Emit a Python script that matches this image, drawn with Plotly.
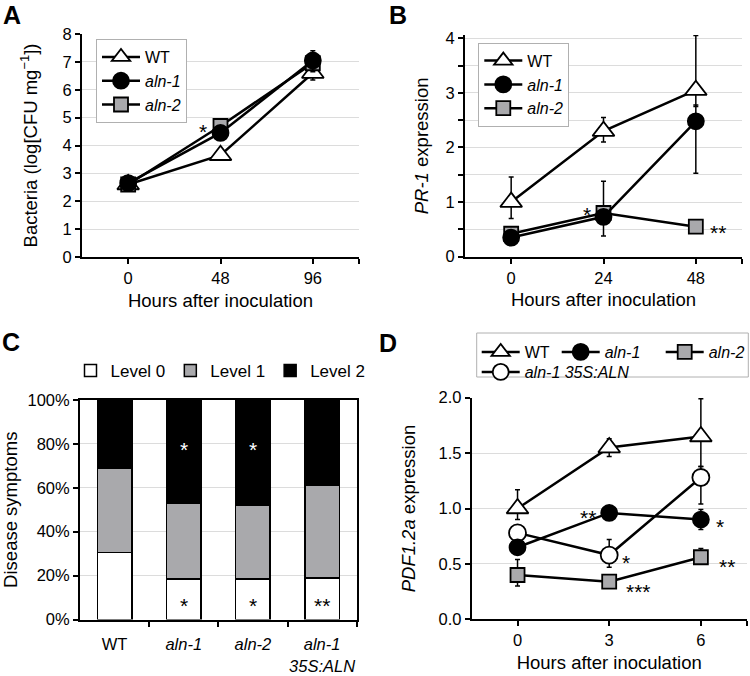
import plotly.graph_objects as go

W, H = 750, 676
FONT = "Liberation Sans, Arial, Helvetica, sans-serif"

# ---------------- data ----------------
# Panel A: bacterial growth
hours_A = ["0", "48", "96"]
A_wt = [2.6, 3.65, 6.6]
A_wt_err = [0.08, 0.1, 0.25]
A_aln1 = [2.65, 4.45, 7.05]
A_aln1_err = [0.08, 0.15, 0.35]
A_aln2 = [2.6, 4.7, 6.95]
A_aln2_err = [0.08, 0.1, 0.3]

# Panel B: PR-1 expression
hours_B = ["0", "24", "48"]
B_wt = [1.0, 2.3, 3.05]
B_wt_errp = [0.46, 0.25, 1.0]
B_wt_errm = [0.3, 0.2, 0.3]
B_aln1 = [0.35, 0.73, 2.48]
B_aln1_errp = [0.05, 0.05, 0.3]
B_aln1_errm = [0.05, 0.35, 0.95]
B_aln2 = [0.42, 0.8, 0.55]
B_aln2_errp = [0.05, 0.58, 0.05]
B_aln2_errm = [0.05, 0.1, 0.05]

# Panel C: disease symptoms (%)
genotypes_C = ["WT", "<i>aln-1</i>", "<i>aln-2</i>", "<i>aln-1</i><br><i>35S:ALN</i>"]
C_level0 = [30.5, 18.5, 18.5, 19.0]
C_level1 = [38.5, 34.5, 33.5, 42.0]
C_level2 = [31.0, 47.0, 48.0, 39.0]

# Panel D: PDF1.2a expression
hours_D = ["0", "3", "6"]
D_wt = [1.0, 1.55, 1.65]
D_wt_errp = [0.17, 0.08, 0.34]
D_wt_errm = [0.1, 0.08, 0.27]
D_aln1 = [0.65, 0.96, 0.9]
D_aln1_errp = [0.05, 0.03, 0.09]
D_aln1_errm = [0.05, 0.03, 0.09]
D_aln2 = [0.4, 0.34, 0.56]
D_aln2_errp = [0.14, 0.03, 0.08]
D_aln2_errm = [0.1, 0.03, 0.03]
D_35s = [0.78, 0.58, 1.28]
D_35s_errp = [0.05, 0.14, 0.1]
D_35s_errm = [0.05, 0.11, 0.24]

y_ticks_A = [0, 1, 2, 3, 4, 5, 6, 7, 8]
y_ticks_B = [0, 1, 2, 3, 4]
y_minor_B = [0.5, 1.5, 2.5, 3.5]
y_ticks_C = [0, 20, 40, 60, 80, 100]
y_ticks_D = [0, 0.5, 1.0, 1.5, 2.0]


def px(x):
    return x / W


def py(y):
    return 1 - y / H


GRAY = "#a9a9ac"
GRID = "#dcdcdc"
fig = go.Figure()


def eb(p, m):
    return dict(type="data", array=p, arrayminus=m, symmetric=False,
                color="black", thickness=1.5, width=2.5)


def line_trace(xv, yv, name, symbol, fill, size, ep, em, xa, ya, legend, rank, lw=None):
    return go.Scatter(
        x=xv, y=yv, name=name, mode="lines+markers",
        line=dict(color="black", width=2.5),
        marker=dict(symbol=symbol, color=fill, size=size,
                    line=dict(color="black", width=1.8)),
        error_y=eb(ep, em), xaxis=xa, yaxis=ya, legend=legend,
        legendrank=rank, legendwidth=lw,
    )


# ---- Panel A ----
xA = list(range(len(hours_A)))
fig.add_trace(line_trace(xA, A_wt, "WT", "triangle-up", "white", 19, A_wt_err, A_wt_err, "x", "y", "legend", 1))
fig.add_trace(line_trace(xA, A_aln2, "<i>aln-2</i>", "square", GRAY, 14, A_aln2_err, A_aln2_err, "x", "y", "legend", 3))
fig.add_trace(line_trace(xA, A_aln1, "<i>aln-1</i>", "circle", "black", 16, A_aln1_err, A_aln1_err, "x", "y", "legend", 2))

# ---- Panel B ----
xB = list(range(len(hours_B)))
fig.add_trace(line_trace(xB, B_wt, "WT", "triangle-up", "white", 19, B_wt_errp, B_wt_errm, "x2", "y2", "legend2", 1))
fig.add_trace(line_trace(xB, B_aln2, "<i>aln-2</i>", "square", GRAY, 14, B_aln2_errp, B_aln2_errm, "x2", "y2", "legend2", 3))
fig.add_trace(line_trace(xB, B_aln1, "<i>aln-1</i>", "circle", "black", 16, B_aln1_errp, B_aln1_errm, "x2", "y2", "legend2", 2))

# ---- Panel C ----
xC = list(range(len(genotypes_C)))
for vals, name, col in [(C_level0, "Level 0", "white"), (C_level1, "Level 1", GRAY), (C_level2, "Level 2", "black")]:
    fig.add_trace(go.Bar(x=xC, y=vals, name=name, width=0.5,
                         marker=dict(color=col, line=dict(color="black", width=1.5)),
                         xaxis="x3", yaxis="y3", legend="legend3"))

# ---- Panel D ----
xD = list(range(len(hours_D)))
fig.add_trace(line_trace(xD, D_wt, "WT", "triangle-up", "white", 19, D_wt_errp, D_wt_errm, "x4", "y4", "legend4", 1, lw=27))
fig.add_trace(line_trace(xD, D_35s, "<i>aln-1 35S:ALN</i>", "circle", "white", 17, D_35s_errp, D_35s_errm, "x4", "y4", "legend5", 1))
fig.add_trace(line_trace(xD, D_aln1, "<i>aln-1</i>", "circle", "black", 16, D_aln1_errp, D_aln1_errm, "x4", "y4", "legend4", 2, lw=51))
fig.add_trace(line_trace(xD, D_aln2, "<i>aln-2</i>", "square", GRAY, 14, D_aln2_errp, D_aln2_errm, "x4", "y4", "legend4", 3, lw=40))

tickfont = dict(family=FONT, size=16.5, color="black")
titlefont = dict(family=FONT, size=18.5, color="black")


def xaxis_line(dom, labels, title, anchor):
    n = len(labels)
    return dict(domain=dom, range=[-0.5, n - 0.5], anchor=anchor,
                tickmode="array", tickvals=list(range(n)), ticktext=labels,
                ticks="outside", ticklen=5, tickwidth=1.5, tickcolor="black",
                minor=dict(tickvals=[n - 0.5], ticks="outside", ticklen=5, tickwidth=1.5,
                           tickcolor="black", showgrid=False),
                showline=True, linecolor="black", linewidth=2,
                showgrid=False, zeroline=False, tickfont=tickfont,
                title=dict(text=title, font=titlefont, standoff=8))


def yaxis_line(dom, rng, tv, tt, title, anchor, standoff, minor_vals=None):
    d = dict(domain=dom, range=rng, anchor=anchor, tickmode="array",
             tickvals=tv, ticktext=tt, ticks="outside", ticklen=5, tickwidth=1.5,
             tickcolor="black", showline=True, linecolor="black", linewidth=2,
             showgrid=True, gridcolor=GRID, gridwidth=1, zeroline=False,
             tickfont=tickfont, title=dict(text=title, font=titlefont, standoff=standoff))
    if minor_vals:
        d["minor"] = dict(tickvals=minor_vals, ticks="outside", ticklen=5, tickwidth=1.5,
                          tickcolor="black", showgrid=True, gridcolor=GRID, gridwidth=1)
    return d


layout = dict(
    width=W, height=H, template="none",
    margin=dict(l=0, r=0, t=0, b=0, autoexpand=False),
    paper_bgcolor="white", plot_bgcolor="white",
    font=dict(family=FONT, color="black"),
    barmode="stack",
    xaxis=xaxis_line([px(82), px(359)], hours_A, "Hours after inoculation", "y"),
    yaxis=yaxis_line([py(257), py(34)], [0, 8], y_ticks_A, [str(v) for v in y_ticks_A],
                     "Bacteria (log[CFU mg<sup>−1</sup>])", "x", 20),
    xaxis2=xaxis_line([px(465), px(742)], hours_B, "Hours after inoculation", "y2"),
    yaxis2=yaxis_line([py(256.7), py(35)], [0, 4.06], y_ticks_B, [str(v) for v in y_ticks_B],
                      "<i>PR-1</i> expression", "x2", 12, y_minor_B),
    xaxis3=dict(domain=[px(80), px(356.7)], range=[-0.5, len(genotypes_C) - 0.5], anchor="y3",
                tickmode="array", tickvals=xC, ticktext=genotypes_C,
                ticks="outside", ticklen=9, tickcolor="rgba(0,0,0,0)",
                minor=dict(tickvals=[i + 0.5 for i in xC], ticks="outside", ticklen=5,
                           tickwidth=1.5, tickcolor="black", showgrid=False),
                showline=True, mirror=True, linecolor="black", linewidth=2,
                showgrid=False, zeroline=False, tickfont=tickfont),
    yaxis3=dict(domain=[py(619.5), py(400)], range=[0, 100], anchor="x3",
                tickmode="array", tickvals=y_ticks_C, ticktext=[f"{v}%" for v in y_ticks_C],
                ticks="outside", ticklen=5, tickwidth=1.5, tickcolor="black",
                showline=True, mirror=True, linecolor="black", linewidth=2,
                showgrid=True, gridcolor=GRID, zeroline=False, tickfont=tickfont,
                title=dict(text="Disease symptoms", font=titlefont, standoff=5)),
    xaxis4=xaxis_line([px(471.7), px(746.7)], hours_D, "Hours after inoculation", "y4"),
    yaxis4=yaxis_line([py(619.3), py(397.7)], [0, 2.0], y_ticks_D, [f"{v:.1f}" for v in y_ticks_D],
                      "<i>PDF1.2a</i> expression", "x4", 18),
    legend=dict(x=px(96), y=py(39), xanchor="left", yanchor="top", bgcolor="white",
                bordercolor="#b0b0b0", borderwidth=1, itemwidth=38,
                font=dict(family=FONT, size=16, color="black"), tracegroupgap=0),
    legend2=dict(x=px(478.3), y=py(42.7), xanchor="left", yanchor="top", bgcolor="white",
                 bordercolor="#b0b0b0", borderwidth=1, itemwidth=38,
                 font=dict(family=FONT, size=16, color="black"), tracegroupgap=0),
    legend3=dict(x=px(220.5), y=py(371), xanchor="center", yanchor="middle", orientation="h",
                 bgcolor="rgba(0,0,0,0)", borderwidth=0, traceorder="normal",
                 font=dict(family=FONT, size=17, color="black")),
    legend4=dict(x=px(476.7), y=py(352), xanchor="left", yanchor="middle", orientation="h",
                 bgcolor="rgba(0,0,0,0)", borderwidth=0, itemwidth=38,
                 font=dict(family=FONT, size=16, color="black")),
    legend5=dict(x=px(476.7), y=py(372), xanchor="left", yanchor="middle", orientation="h",
                 bgcolor="rgba(0,0,0,0)", borderwidth=0, itemwidth=38,
                 font=dict(family=FONT, size=16, color="black")),
    shapes=[dict(type="rect", xref="paper", yref="paper", x0=px(476.7), x1=px(748.3),
                 y0=py(377), y1=py(333), line=dict(color="#b0b0b0", width=1), layer="below")],
)
fig.update_layout(**layout)

# significance marks: (xref, yref, x, y, text, xshift, yshift, color)
stars = [
    ("x", "y", 1, A_aln2[1], "*", -18, -6, "black"),
    ("x2", "y2", 1, B_aln2[1], "*", -17, -1, "black"),
    ("x2", "y2", 2, B_aln2[2], "**", 22, -6, "black"),
    ("x3", "y3", 1, 80, "*", 0, -6, "white"),
    ("x3", "y3", 2, 80, "*", 0, -6, "white"),
    ("x3", "y3", 1, 9, "*", 0, -6, "black"),
    ("x3", "y3", 2, 9, "*", 0, -6, "black"),
    ("x3", "y3", 3, 9, "**", 0, -6, "black"),
    ("x4", "y4", 1, D_aln1[1], "**", -21, -5, "black"),
    ("x4", "y4", 2, D_aln1[2], "*", 19, -7, "black"),
    ("x4", "y4", 1, D_35s[1], "*", 17, -7, "black"),
    ("x4", "y4", 1, D_aln2[1], "***", 29, -10, "black"),
    ("x4", "y4", 2, D_aln2[2], "**", 26, -9, "black"),
]
for xr, yr, xv, yv, txt, xs, ys, col in stars:
    fig.add_annotation(xref=xr, yref=yr, x=xv, y=yv, text=txt, showarrow=False,
                       xshift=xs, yshift=ys, xanchor="center", yanchor="middle",
                       font=dict(family=FONT, size=21, color=col))

for letter, lx, ly in [("A", 12, 15), ("B", 398, 15), ("C", 11, 342), ("D", 388, 343)]:
    fig.add_annotation(xref="paper", yref="paper", x=px(lx), y=py(ly), text=f"<b>{letter}</b>",
                       showarrow=False, xanchor="center", yanchor="middle",
                       font=dict(family=FONT, size=25, color="black"))

fig.write_html("out.html", config={"displayModeBar": False},
               post_script="document.body.style.margin='0px';")
